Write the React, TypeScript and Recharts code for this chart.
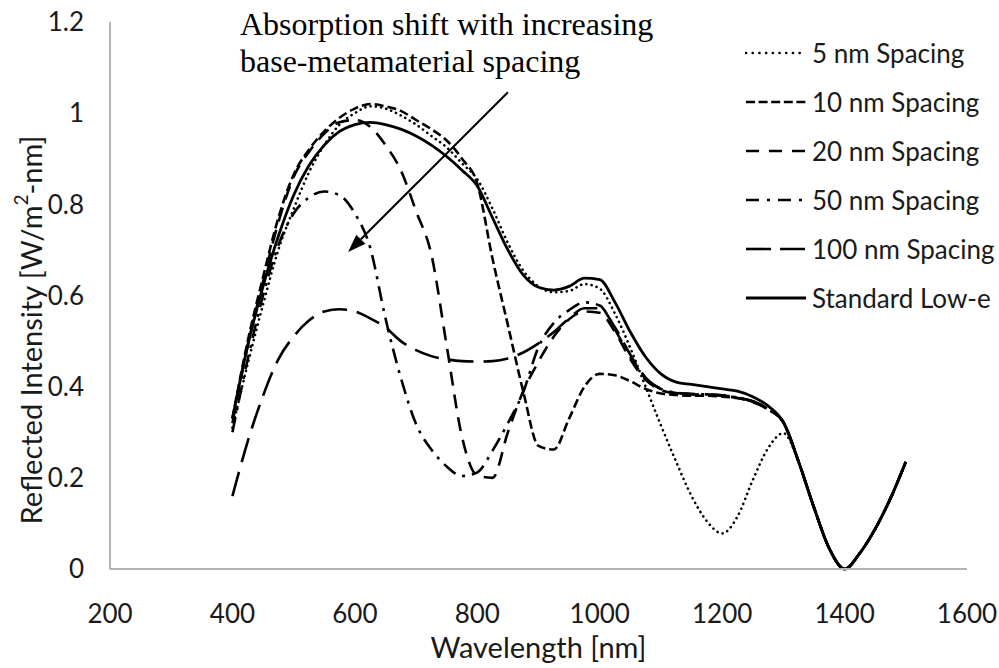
import React from "react";
import { LineChart, Line, XAxis, YAxis, Legend, ReferenceLine } from "recharts";

// wavelength grid [nm]
const wavelengths = [
  400, 425, 450, 475, 500, 525, 550, 575, 600, 625, 650, 675, 700, 725, 750, 775, 800, 825, 850, 875,
  900, 925, 950, 975, 1000, 1025, 1050, 1075, 1100, 1125, 1150, 1175, 1200, 1225, 1250, 1275, 1300,
  1325, 1350, 1375, 1400, 1425, 1450, 1475, 1500,
];

// 1325-1500 nm: all curves sit on top of each other
const sharedTail = [0.235, 0.135, 0.045, 0, 0.035, 0.088, 0.155, 0.235];

const spacing5 = [
  0.31, 0.45, 0.58, 0.7, 0.79, 0.87, 0.93, 0.975, 1.0, 1.015, 1.01, 0.995, 0.975, 0.95, 0.925, 0.89, 0.855,
  0.79, 0.715, 0.655, 0.62, 0.607, 0.61, 0.625, 0.615, 0.56, 0.485, 0.4, 0.315, 0.235, 0.16, 0.105, 0.078,
  0.115, 0.195, 0.265, 0.298, ...sharedTail,
];
const spacing10 = [
  0.33, 0.5, 0.64, 0.77, 0.865, 0.92, 0.96, 0.99, 1.01, 1.02, 1.015, 1.005, 0.985, 0.965, 0.94, 0.9, 0.845,
  0.68, 0.535, 0.39, 0.27, 0.262, 0.33, 0.4, 0.428, 0.425, 0.412, 0.395, 0.385, 0.382, 0.38, 0.38, 0.378,
  0.375, 0.368, 0.35, 0.322, ...sharedTail,
];
const spacing20 = [
  0.32, 0.49, 0.63, 0.76, 0.86, 0.915, 0.955, 0.98, 0.985, 0.97, 0.93, 0.875, 0.785, 0.69, 0.49, 0.29, 0.205,
  0.2, 0.3, 0.39, 0.455, 0.51, 0.548, 0.565, 0.562, 0.52, 0.46, 0.415, 0.393, 0.385, 0.383, 0.382, 0.38,
  0.375, 0.366, 0.35, 0.322, ...sharedTail,
];
const spacing50 = [
  0.3, 0.46, 0.6, 0.71, 0.78, 0.815, 0.828, 0.82, 0.78, 0.705, 0.55, 0.42, 0.318, 0.262, 0.225, 0.204, 0.212,
  0.26, 0.32, 0.388, 0.487, 0.54, 0.568, 0.585, 0.578, 0.525, 0.465, 0.418, 0.395, 0.387, 0.384, 0.383, 0.381,
  0.376, 0.367, 0.351, 0.322, ...sharedTail,
];
const spacing100 = [
  0.16, 0.28, 0.38, 0.46, 0.51, 0.545, 0.565, 0.57, 0.565, 0.55, 0.53, 0.5, 0.48, 0.467, 0.46, 0.456, 0.455,
  0.456, 0.462, 0.475, 0.495, 0.52, 0.55, 0.572, 0.572, 0.53, 0.47, 0.42, 0.395, 0.386, 0.384, 0.383, 0.381,
  0.376, 0.368, 0.352, 0.322, ...sharedTail,
];
const standardLowE = [
  0.33, 0.49, 0.62, 0.73, 0.82, 0.885, 0.93, 0.96, 0.975, 0.98, 0.975, 0.965, 0.95, 0.93, 0.905, 0.875, 0.84,
  0.77, 0.7, 0.645, 0.618, 0.612, 0.62, 0.638, 0.635, 0.585, 0.52, 0.465, 0.428, 0.41, 0.405, 0.4, 0.395,
  0.39, 0.378, 0.358, 0.322, ...sharedTail,
];

const xTicks = [200, 400, 600, 800, 1000, 1200, 1400, 1600];
const yTicks = [0, 0.2, 0.4, 0.6, 0.8, 1, 1.2];

const data = wavelengths.map((w, i) => ({
  w,
  s5: spacing5[i],
  s10: spacing10[i],
  s20: spacing20[i],
  s50: spacing50[i],
  s100: spacing100[i],
  std: standardLowE[i],
}));

const series = [
  { key: "s5", name: "5 nm Spacing", dash: "0.1 5.2", legendDash: "0.1 6.6", cap: "round" as const, width: 2.6 },
  { key: "s10", name: "10 nm Spacing", dash: "9 4", legendDash: "9 3.6", cap: "butt" as const, width: 2.6 },
  { key: "s20", name: "20 nm Spacing", dash: "14 9", legendDash: "13 10", cap: "butt" as const, width: 2.6 },
  { key: "s50", name: "50 nm Spacing", dash: "15 7 3 7", legendDash: "13 8 3 8", cap: "butt" as const, width: 2.6 },
  { key: "s100", name: "100 nm Spacing", dash: "25 10", legendDash: "25 9", cap: "butt" as const, width: 2.6 },
  { key: "std", name: "Standard Low-e", dash: undefined, legendDash: undefined, cap: "butt" as const, width: 2.8 },
];

const FONT = "Lato, 'Open Sans', sans-serif";
const TXT = "#1a1a1a";

const LegendBox = () => (
  <div style={{ fontFamily: FONT, fontSize: 26, color: TXT }}>
    {series.map((s) => (
      <div key={s.key} style={{ height: 49, display: "flex", alignItems: "center", whiteSpace: "nowrap" }}>
        <svg width={62} height={12} style={{ marginRight: 5 }}>
          <line x1={1} y1={6} x2={61} y2={6} stroke="#000" strokeWidth={s.width}
            strokeDasharray={s.legendDash} strokeLinecap={s.cap} />
        </svg>
        <span>{s.name}</span>
      </div>
    ))}
  </div>
);

const Arrow = (props: any) => {
  const { x1, y1, x2, y2 } = props;
  const a = Math.atan2(y2 - y1, x2 - x1);
  const len = 18, half = 6.5;
  const bx = x2 - len * Math.cos(a);
  const by = y2 - len * Math.sin(a);
  const p1 = `${bx + half * Math.sin(a)},${by - half * Math.cos(a)}`;
  const p2 = `${bx - half * Math.sin(a)},${by + half * Math.cos(a)}`;
  return (
    <g>
      <line x1={x1} y1={y1} x2={bx} y2={by} stroke="#000" strokeWidth={2} />
      <polygon points={`${x2},${y2} ${p1} ${p2}`} fill="#000" />
    </g>
  );
};

const YTitle = () => (
  <text x={30} y={330} transform="rotate(-90 30 330)" textAnchor="middle" dominantBaseline="central"
    fontFamily={FONT} fontSize={29} fill={TXT}>
    <tspan>Reflected Intensity [W/m</tspan>
    <tspan dy={-10} fontSize={19}>2</tspan>
    <tspan dy={10}>-nm]</tspan>
  </text>
);

export default function App() {
  return (
    <div style={{ position: "absolute", left: 0, top: 0, width: 999, height: 668, background: "#fff" }}>
      <LineChart width={999} height={668} data={data} margin={{ top: 22, right: 32, left: 0, bottom: 0 }}>
        <XAxis dataKey="w" type="number" domain={[200, 1600]} ticks={xTicks} height={99}
          stroke="#b3b3b3" strokeWidth={2} tickLine={false} tickSize={0} tickMargin={36}
          tick={{ fontFamily: FONT, fontSize: 26, fill: TXT }}
          label={{ value: "Wavelength [nm]", position: "insideBottom", offset: 10, fontFamily: FONT, fontSize: 29, fill: TXT }} />
        <YAxis type="number" domain={[0, 1.2]} ticks={yTicks} width={110}
          stroke="#b3b3b3" strokeWidth={2} tickLine={false} tickSize={0} tickMargin={26}
          tick={{ fontFamily: FONT, fontSize: 26, fill: TXT }}
          label={{ content: () => <YTitle /> }} />
        <Legend layout="vertical" align="center" verticalAlign="middle" content={() => <LegendBox />}
          wrapperStyle={{ top: 28, left: 745, width: 254, height: 300 }} />
        {series.map((s) => (
          <Line key={s.key} type="monotone" dataKey={s.key} name={s.name} stroke="#000" strokeWidth={s.width}
            strokeDasharray={s.dash} strokeLinecap={s.cap} dot={false} activeDot={false} isAnimationActive={false} />
        ))}
        <ReferenceLine segment={[{ x: 850, y: 1.046 }, { x: 589, y: 0.6955 }]} shape={Arrow} />
      </LineChart>
      <div style={{ position: "absolute", left: 240, top: 6, fontFamily: "'Liberation Serif', 'Times New Roman', serif",
        fontSize: 32, lineHeight: "37px", color: "#000", whiteSpace: "nowrap" }}>
        Absorption shift with increasing<br />base-metamaterial spacing
      </div>
    </div>
  );
}
